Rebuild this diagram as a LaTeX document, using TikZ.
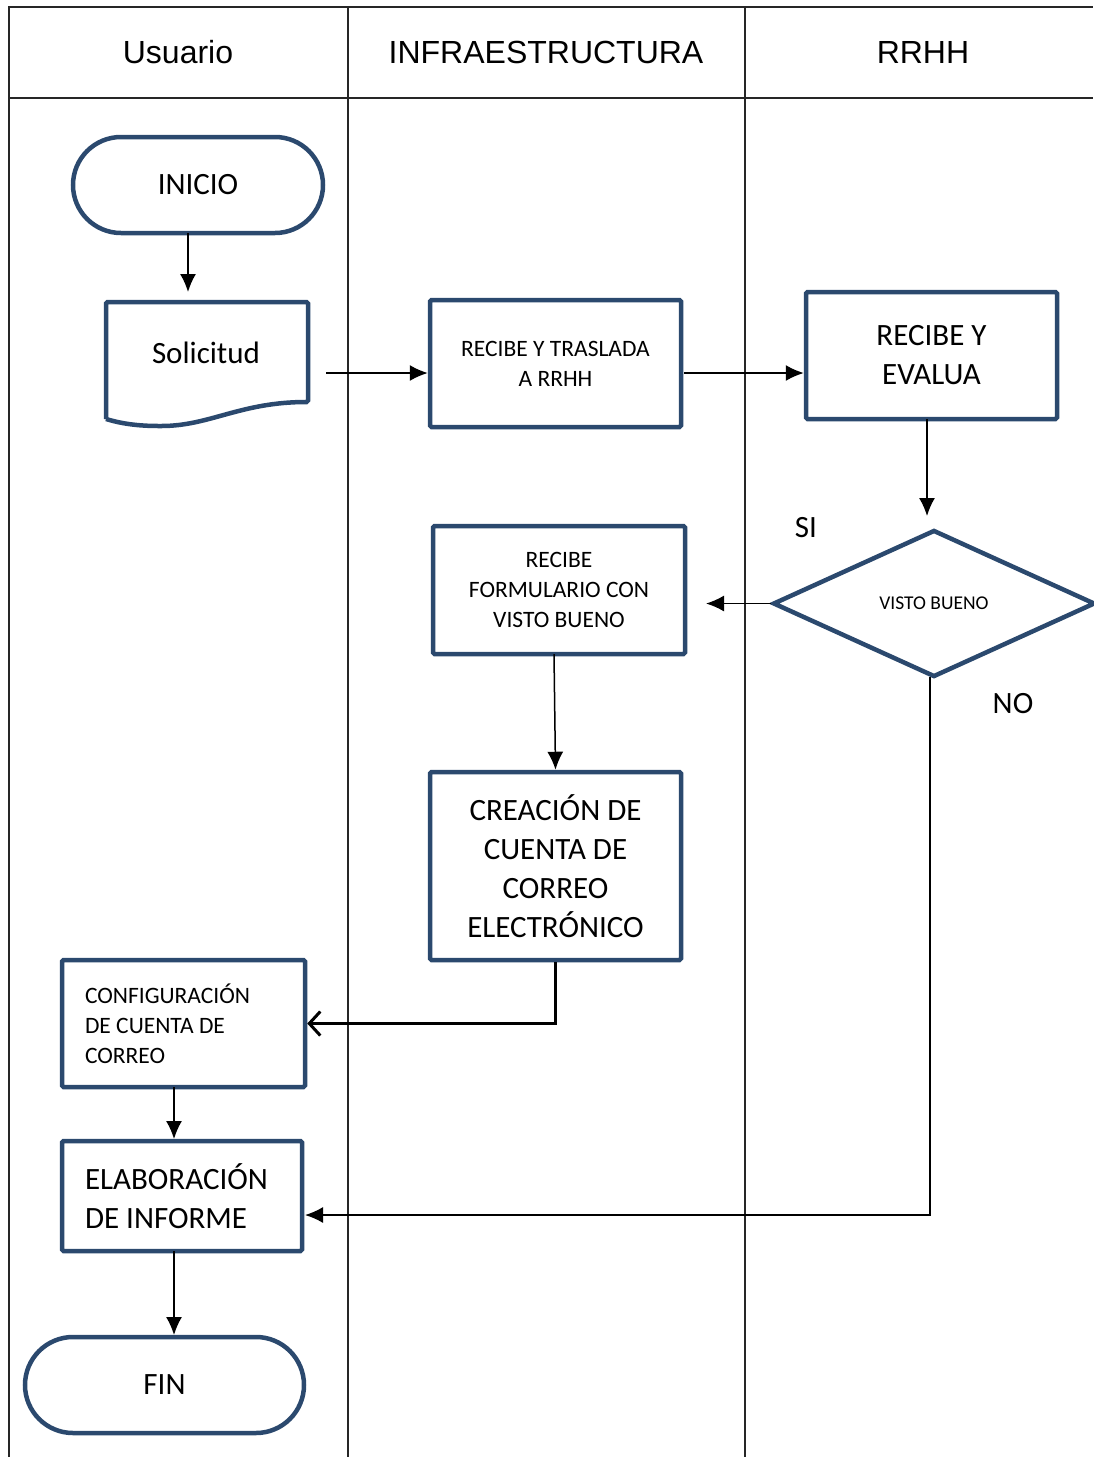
\documentclass[tikz,border=0pt]{standalone}
\usepackage{fontspec}
\setmainfont{Carlito}
\newfontfamily\arialf{Liberation Sans}
\usetikzlibrary{arrows.meta,shapes.geometric}
\definecolor{boxblue}{RGB}{43,73,110}
\begin{document}
\begin{tikzpicture}[x=1pt,y=-1pt,
 lane/.style={line width=1.2pt, draw=black!85},
 proc/.style={draw=boxblue, line width=4.5pt, rounded corners=1.5pt, align=center, inner sep=0pt},
 term/.style={draw=boxblue, line width=4.5pt, rounded corners=48pt, inner sep=0pt, minimum height=96pt},
 arr/.style={-{Latex[length=18pt,width=16pt]}, line width=1.5pt},
 thickarr/.style={-{Straight Barb[length=11pt,width=24pt]}, line width=3pt},
 big/.style={font=\fontsize{31}{39}\selectfont},
 small/.style={font=\fontsize{23.5}{30}\selectfont},
 hdr/.style={font=\arialf\fontsize{32}{38}\selectfont}]
\useasboundingbox (0,0) rectangle (1093,1457);

% swimlanes
\draw[lane] (9,1457) -- (9,7) -- (1093,7);
\draw[lane] (9,98) -- (1093,98);
\draw[lane] (348,7) -- (348,1457);
\draw[lane] (745,7) -- (745,1457);
\node[hdr] (h1) at (178,52) {Usuario};
\node[hdr] (h2) at (546,52) {INFRAESTRUCTURA};
\node[hdr] (h3) at (923,52) {RRHH};

% nodes
\node[term, big, minimum width=250pt] (ini) at (198,185) {INICIO};
\draw[draw=boxblue, line width=4.5pt, rounded corners=1.5pt]
  (106,419) -- (106,302) -- (308,302) -- (308,402)
  .. controls (240,402) and (210,426) .. (160,426)
  .. controls (132,426) and (116,422) .. (106,419);
\node[big] (sol) at (206,353) {Solicitud};
\node[proc, small, minimum width=251pt, minimum height=127pt] (tras) at (555.5,363.5) {RECIBE Y TRASLADA\\A RRHH};
\node[proc, big, minimum width=251pt, minimum height=127pt] (eval) at (931.5,355.5) {RECIBE Y\\EVALUA};
\node[draw=boxblue, line width=4.5pt, diamond, inner sep=0pt, minimum width=322pt, minimum height=147pt,
      font=\fontsize{19.5}{24}\selectfont] (vb) at (934,603.5) {VISTO BUENO};
\node[proc, small, minimum width=252pt, minimum height=128pt] (form) at (559,590) {RECIBE\\FORMULARIO CON\\VISTO BUENO};
\node[proc, big, minimum width=251pt, minimum height=188pt] (crea) at (555.5,866) {CREACIÓN DE\\CUENTA DE\\CORREO\\ELECTRÓNICO};
\node[proc, small, minimum width=243pt, minimum height=127pt, align=flush left, text width=197pt, inner xsep=23pt] (conf) at (183.5,1023.5) {CONFIGURACIÓN\\DE CUENTA DE\\CORREO};
\node[proc, big, minimum width=240pt, minimum height=110pt, align=flush left, text width=194pt, inner xsep=23pt] (elab) at (182,1196) {ELABORACIÓN\\DE INFORME};
\node[term, big, minimum width=279pt] (fin) at (164.5,1385) {FIN};

\node[big] (si) at (806,528) {SI};
\node[big] (no) at (1013,704) {NO};

% connector end points
\coordinate (a1s) at (188,233);
\coordinate (a1e) at (188,292);
\coordinate (a2s) at (326,373);
\coordinate (a3s) at (684,373);
\coordinate (a4s) at (927,419);
\coordinate (a4e) at (927,516);
\coordinate (a5e) at (706,603.5);
\coordinate (a6s) at (554,654);
\coordinate (a8s) at (174,1087);
\coordinate (a8e) at (174,1139);
\coordinate (nos) at (930,677);
\coordinate (noe) at (305,1215);
\coordinate (a9s) at (174,1251);
\coordinate (a9e) at (174,1335);

% connectors
\draw[arr] (a1s) -- (a1e);
\draw[arr] (a2s) -- (tras.west |- a2s);
\draw[arr] (a3s) -- (eval.west |- a3s);
\draw[arr] (a4s) -- (a4e);
\draw[arr] (vb.west) -- (a5e);
\draw[arr] (a6s) -- (crea.north);
\draw[thickarr] (crea.south) |- (conf.east);
\draw[arr] (a8s) -- (a8e);
\draw[arr] (nos) |- (noe);
\draw[arr] (a9s) -- (a9e);
\end{tikzpicture}
\end{document}
